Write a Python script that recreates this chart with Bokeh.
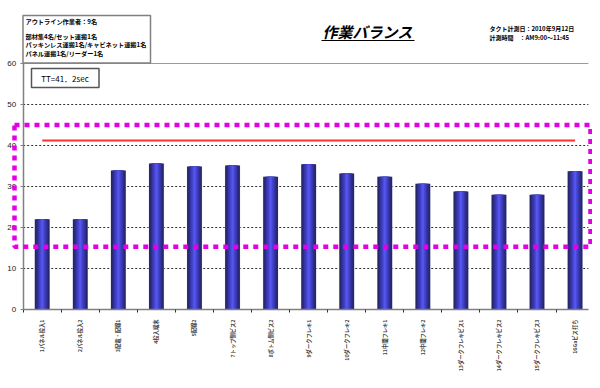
import math
from bokeh.plotting import figure
from bokeh.models import Range1d, FixedTicker, LinearAxis
from bokeh.core.properties import value
from bokeh.embed import file_html
from bokeh.resources import INLINE

# ---------------- data ----------------
categories = ["1パネル投入1", "2パネル投入2", "3配電・配線1", "4投入端末", "5配線2",
              "7トップ側ビス2", "8ボトム側ビス2", "9ダークフレキ1", "10ダークフレキ2",
              "11中間フレキ1", "12中間フレキ2", "13ダークフレキビス1", "14ダークフレキビス2",
              "15ダークフレキビス3", "16Gaビス打ち"]
times = [22.0, 22.0, 33.9, 35.6, 34.9, 35.1, 32.4, 35.4, 33.2, 32.4, 30.7, 28.8, 28.0, 28.0, 33.7]
tact_time = 41.2
tt_label = "TT=41．2sec"
band_low = 15.3
band_high = 45.0
yticks = [0, 10, 20, 30, 40, 50, 60]
title_text = "作業バランス"
info_lines = ["アウトライン作業者：9名", "部材集4名/セット運搬1名",
              "パッキンレス運搬1名/キャビネット運搬1名", "パネル運搬1名/リーダー1名"]
date_lines = ["タクト計測日：2010年9月12日", "計測時間　：AM9:00～11:45"]

JP = value("Noto Sans CJK JP")

# pixel helpers (picture pixel -> data coords)
def px2x(rx):
    return 0.5 + (rx - 22.7) / 38.06

def px2y(ry):
    return (309 - ry) / 4.1

W, H = 592, 372
p = figure(width=W, height=H, output_backend="svg", toolbar_location=None,
           x_range=Range1d(px2x(0), px2x(W)), y_range=Range1d(px2y(H), px2y(0)),
           min_border_left=0, min_border_right=0, min_border_top=0, min_border_bottom=0,
           x_axis_location=None, y_axis_location=None)
p.outline_line_color = None
p.xgrid.visible = False
p.ygrid.visible = False
p.background_fill_color = "white"

xs = [i + 1 for i in range(len(categories))]

# gridlines
p.segment(x0=[0.5] * 5, x1=[15.35] * 5, y0=yticks[1:-1], y1=yticks[1:-1],
          line_color="#333333", line_width=1, line_dash="2 2")
p.segment(x0=[0.5], x1=[15.35], y0=[yticks[-1]], y1=[yticks[-1]],
          line_color="#9a9a9a", line_width=1.2)

# bars with cylinder shading
p.vbar(x=xs, top=times, width=0.41, fill_color="#e8e8f4", line_color=None)
shades = [(0.39, "#26266c"), (0.31, "#2d2d86"), (0.24, "#3636a6"), (0.17, "#4040c4"),
          (0.10, "#4a4adc"), (0.05, "#5656ee")]
for w, c in shades:
    p.vbar(x=xs, top=times, width=w, fill_color=c, line_color=None)

# tact line
p.segment(x0=[xs[0]], x1=[xs[-1]], y0=[tact_time], y1=[tact_time],
          line_color="#ff3030", line_width=2)

# axes
yaxis = LinearAxis(ticker=FixedTicker(ticks=yticks), fixed_location=0.5)
yaxis.bounds = (0, 60)
yaxis.axis_line_color = "#808080"
yaxis.axis_line_width = 1.5
yaxis.major_tick_line_color = "#808080"
yaxis.major_tick_out = 3
yaxis.major_tick_in = 0
yaxis.minor_tick_line_color = None
yaxis.major_label_text_font = "Liberation Sans"
yaxis.major_label_text_font_size = "8px"
yaxis.major_label_text_color = "#222222"
yaxis.major_label_standoff = 4
p.add_layout(yaxis, "left")

xaxis = LinearAxis(ticker=FixedTicker(ticks=xs, minor_ticks=[i + 0.5 for i in range(len(xs) + 1)]),
                   fixed_location=0)
xaxis.bounds = (0.5, 15.35)
xaxis.major_label_overrides = {x: c for x, c in zip(xs, categories)}
xaxis.major_label_orientation = math.pi / 2
xaxis.major_label_text_font = "Noto Sans CJK JP"
xaxis.major_label_text_font_size = "5.3px"
xaxis.major_label_text_font_style = "bold"
xaxis.major_label_standoff = 4
xaxis.major_tick_line_color = None
xaxis.minor_tick_line_color = "#333333"
xaxis.minor_tick_out = 3
xaxis.minor_tick_in = 0
xaxis.axis_line_color = "#808080"
xaxis.axis_line_width = 1.5
p.add_layout(xaxis, "below")

# magenta dotted band
r = p.quad(left=[px2x(14)], right=[px2x(590)], top=[band_high], bottom=[band_low],
           fill_color=None, line_color="#e400e4", line_width=4.5, line_dash="5 5")
r.level = "overlay"

# info box
p.quad(left=[px2x(22.5)], right=[px2x(150)], top=[px2y(15)], bottom=[px2y(62.5)],
       fill_color="white", line_color="#808080", line_width=1.5)
info_y = [px2y(21), px2y(35.5), px2y(44), px2y(52.5)]
p.text(x=[px2x(25)] * 4, y=info_y, text=info_lines, text_font=JP, text_font_size="6.2px",
       text_font_style="bold", text_baseline="middle", text_align="left", text_color="black")

# TT box
p.quad(left=[px2x(31)], right=[px2x(98.5)], top=[px2y(68)], bottom=[px2y(87)],
       fill_color="white", line_color="#555555", line_width=1.5)
p.text(x=[px2x(64.5)], y=[px2y(77.5)], text=[tt_label], text_font=JP, text_font_size="8px",
       text_baseline="middle", text_align="center", text_color="black")

# title
p.text(x=[px2x(367)], y=[px2y(31)], text=[title_text], text_font=JP, text_font_size="15px",
       text_font_style="bold italic", text_baseline="middle", text_align="center", text_color="black")
p.segment(x0=[px2x(321)], x1=[px2x(414)], y0=[px2y(40)], y1=[px2y(40)], line_color="black", line_width=1.2)

# date info
p.text(x=[px2x(489)] * 2, y=[px2y(28), px2y(37)], text=date_lines, text_font=JP,
       text_font_size="6px", text_font_style="bold", text_baseline="middle", text_align="left",
       text_color="black")

open("out.html", "w").write(file_html(p, INLINE))
